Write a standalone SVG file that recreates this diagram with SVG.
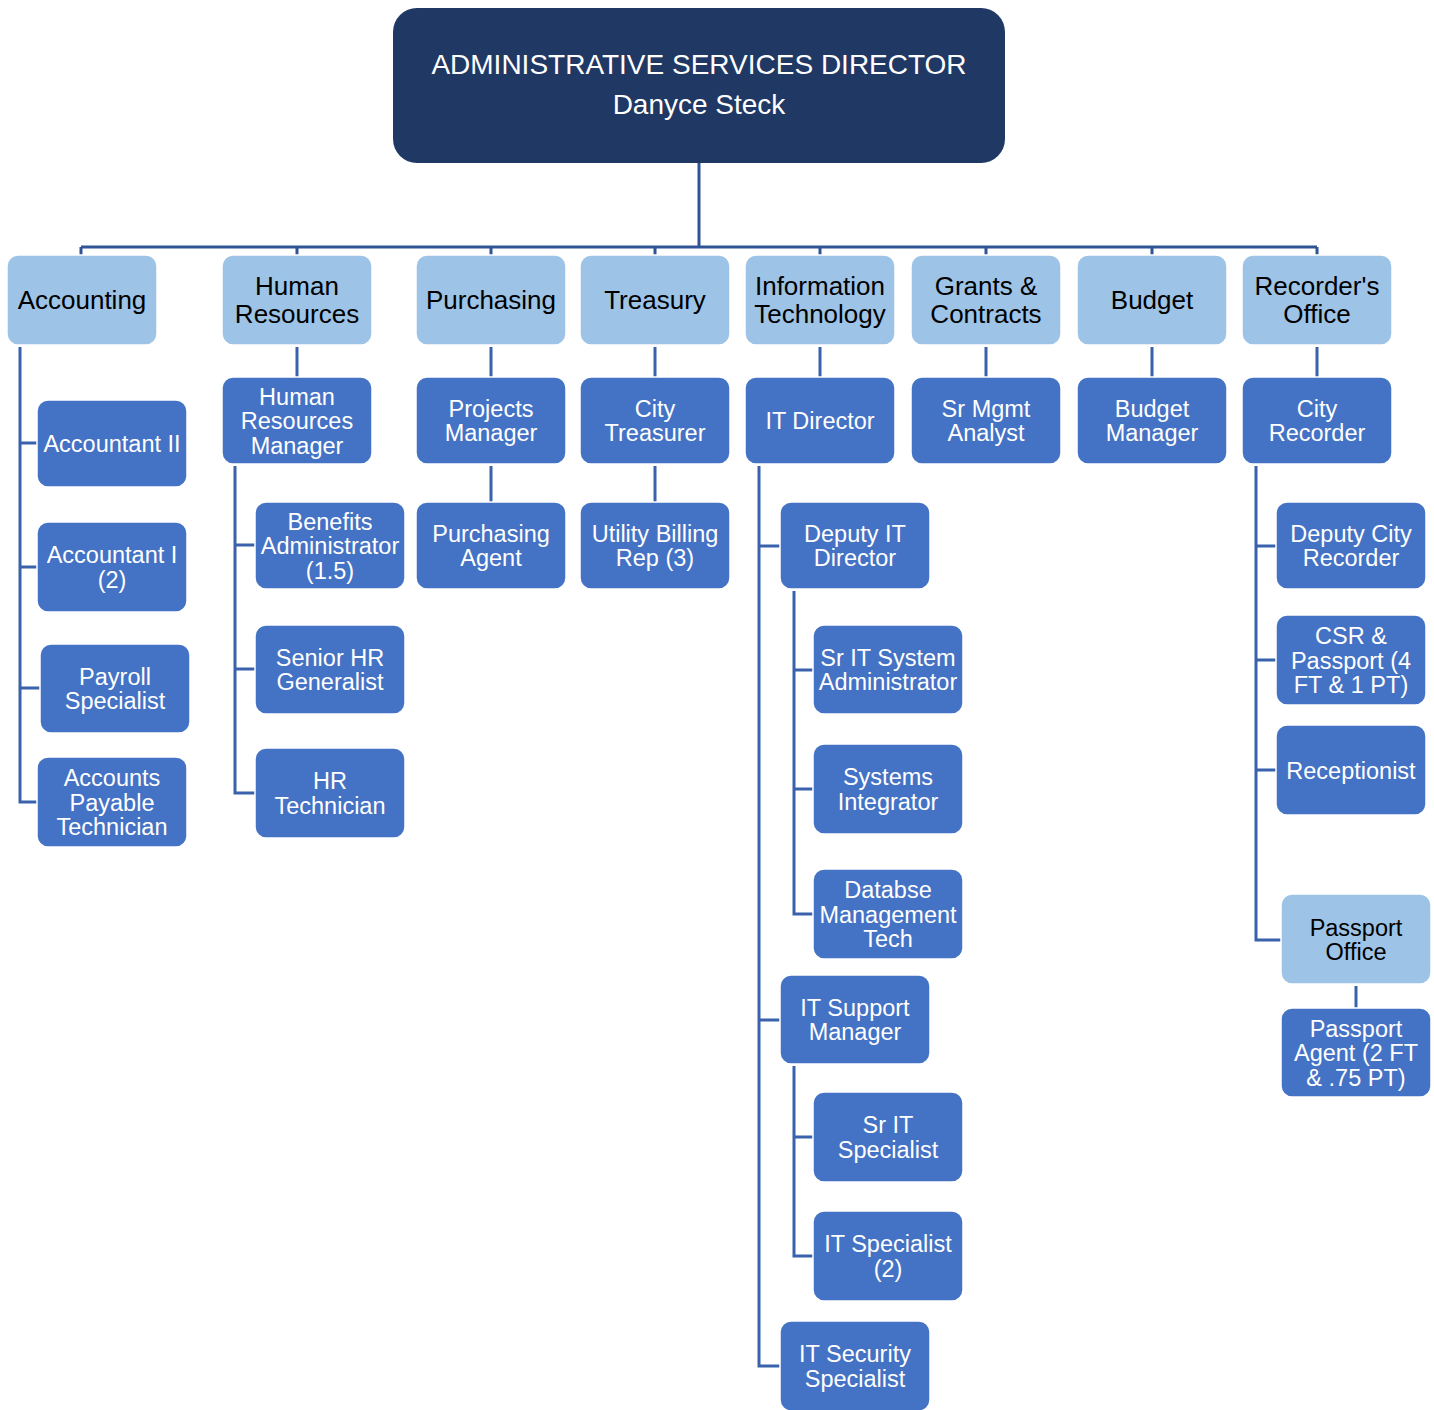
<svg xmlns="http://www.w3.org/2000/svg" width="1434" height="1410" viewBox="0 0 1434 1410">
  <style>
    .top { fill: #203864; }
    .dept { fill: #9DC3E6; stroke: #ffffff; stroke-width: 1.5; }
    .role { fill: #4472C4; stroke: #ffffff; stroke-width: 1.5; }
    .tt { font-family: "Liberation Sans", Arial, sans-serif; font-size: 28px; fill: #ffffff; text-anchor: middle; }
    .td { font-family: "Liberation Sans", Arial, sans-serif; font-size: 26px; fill: #000000; text-anchor: middle; }
    .tds { font-family: "Liberation Sans", Arial, sans-serif; font-size: 23.5px; fill: #000000; text-anchor: middle; }
    .tr { font-family: "Liberation Sans", Arial, sans-serif; font-size: 23.5px; fill: #ffffff; text-anchor: middle; }
    .conn path { fill: none; stroke: #3A62AC; stroke-width: 3; }
    .conn path.main { stroke: #2F5597; }
  </style>
  <rect width="1434" height="1410" fill="#ffffff"/>

  <!-- connectors -->
  <g class="conn" id="connectors">
    <path class="main" d="M699 163 V247 M81 247 H1317"/>
    <path class="main" d="M81 247 V255 M297 247 V255 M491 247 V255 M655 247 V255 M820 247 V255 M986 247 V255 M1152 247 V255 M1317 247 V255"/>
    <path d="M297 347 V377 M491 347 V377 M655 347 V377 M820 347 V377 M986 347 V377 M1152 347 V377 M1317 347 V377"/>
    <path d="M20 347 V802 H37 M20 443 H37 M20 567 H37 M20 688 H40"/>
    <path d="M235 466 V793 H255 M235 545 H255 M235 669 H255"/>
    <path d="M491 466 V502 M655 466 V502"/>
    <path d="M759 466 V1366 H780 M759 546 H780 M759 1020 H780"/>
    <path d="M794 591 V914 H813 M794 670 H813 M794 789 H813"/>
    <path d="M794 1066 V1256 H813 M794 1137 H813"/>
    <path d="M1256 466 V940 H1281 M1256 546 H1276 M1256 660 H1276 M1256 770 H1276"/>
    <path d="M1356 986 V1008"/>
  </g>

  <!-- director -->
  <g id="director">
    <rect class="top" x="393" y="8" width="612" height="155" rx="24"/>
    <text class="tt" x="699" y="74">ADMINISTRATIVE SERVICES DIRECTOR</text>
    <text class="tt" x="699" y="114">Danyce Steck</text>
  </g>

  <!-- departments -->
  <g id="accounting">
    <rect class="dept" x="7" y="255" width="150" height="90" rx="11"/>
    <text class="td" x="82" y="309">Accounting</text>
  </g>
  <g id="human-resources">
    <rect class="dept" x="222" y="255" width="150" height="90" rx="11"/>
    <text class="td" x="297" y="295">Human</text>
    <text class="td" x="297" y="323">Resources</text>
  </g>
  <g id="purchasing">
    <rect class="dept" x="416" y="255" width="150" height="90" rx="11"/>
    <text class="td" x="491" y="309">Purchasing</text>
  </g>
  <g id="treasury">
    <rect class="dept" x="580" y="255" width="150" height="90" rx="11"/>
    <text class="td" x="655" y="309">Treasury</text>
  </g>
  <g id="information-technology">
    <rect class="dept" x="745" y="255" width="150" height="90" rx="11"/>
    <text class="td" x="820" y="295">Information</text>
    <text class="td" x="820" y="323">Technology</text>
  </g>
  <g id="grants-contracts">
    <rect class="dept" x="911" y="255" width="150" height="90" rx="11"/>
    <text class="td" x="986" y="295">Grants &amp;</text>
    <text class="td" x="986" y="323">Contracts</text>
  </g>
  <g id="budget">
    <rect class="dept" x="1077" y="255" width="150" height="90" rx="11"/>
    <text class="td" x="1152" y="309">Budget</text>
  </g>
  <g id="recorders-office">
    <rect class="dept" x="1242" y="255" width="150" height="90" rx="11"/>
    <text class="td" x="1317" y="295">Recorder's</text>
    <text class="td" x="1317" y="323">Office</text>
  </g>

  <!-- department heads -->
  <g id="hr-manager">
    <rect class="role" x="222" y="377" width="150" height="87" rx="11"/>
    <text class="tr" x="297" y="404.5">Human</text>
    <text class="tr" x="297" y="429">Resources</text>
    <text class="tr" x="297" y="453.5">Manager</text>
  </g>
  <g id="projects-manager">
    <rect class="role" x="416" y="377" width="150" height="87" rx="11"/>
    <text class="tr" x="491" y="416.75">Projects</text>
    <text class="tr" x="491" y="441.25">Manager</text>
  </g>
  <g id="city-treasurer">
    <rect class="role" x="580" y="377" width="150" height="87" rx="11"/>
    <text class="tr" x="655" y="416.75">City</text>
    <text class="tr" x="655" y="441.25">Treasurer</text>
  </g>
  <g id="it-director">
    <rect class="role" x="745" y="377" width="150" height="87" rx="11"/>
    <text class="tr" x="820" y="429">IT Director</text>
  </g>
  <g id="sr-mgmt-analyst">
    <rect class="role" x="911" y="377" width="150" height="87" rx="11"/>
    <text class="tr" x="986" y="416.75">Sr Mgmt</text>
    <text class="tr" x="986" y="441.25">Analyst</text>
  </g>
  <g id="budget-manager">
    <rect class="role" x="1077" y="377" width="150" height="87" rx="11"/>
    <text class="tr" x="1152" y="416.75">Budget</text>
    <text class="tr" x="1152" y="441.25">Manager</text>
  </g>
  <g id="city-recorder">
    <rect class="role" x="1242" y="377" width="150" height="87" rx="11"/>
    <text class="tr" x="1317" y="416.75">City</text>
    <text class="tr" x="1317" y="441.25">Recorder</text>
  </g>

  <!-- accounting staff -->
  <g id="accountant-ii">
    <rect class="role" x="37" y="400" width="150" height="87" rx="11"/>
    <text class="tr" x="112" y="452">Accountant II</text>
  </g>
  <g id="accountant-i">
    <rect class="role" x="37" y="522" width="150" height="90" rx="11"/>
    <text class="tr" x="112" y="563.25">Accountant I</text>
    <text class="tr" x="112" y="587.75">(2)</text>
  </g>
  <g id="payroll-specialist">
    <rect class="role" x="40" y="644" width="150" height="89" rx="11"/>
    <text class="tr" x="115" y="684.75">Payroll</text>
    <text class="tr" x="115" y="709.25">Specialist</text>
  </g>
  <g id="ap-technician">
    <rect class="role" x="37" y="757" width="150" height="90" rx="11"/>
    <text class="tr" x="112" y="786">Accounts</text>
    <text class="tr" x="112" y="810.5">Payable</text>
    <text class="tr" x="112" y="835">Technician</text>
  </g>

  <!-- HR staff -->
  <g id="benefits-administrator">
    <rect class="role" x="255" y="502" width="150" height="87" rx="11"/>
    <text class="tr" x="330" y="529.5">Benefits</text>
    <text class="tr" x="330" y="554">Administrator</text>
    <text class="tr" x="330" y="578.5">(1.5)</text>
  </g>
  <g id="senior-hr-generalist">
    <rect class="role" x="255" y="625" width="150" height="89" rx="11"/>
    <text class="tr" x="330" y="665.75">Senior HR</text>
    <text class="tr" x="330" y="690.25">Generalist</text>
  </g>
  <g id="hr-technician">
    <rect class="role" x="255" y="748" width="150" height="90" rx="11"/>
    <text class="tr" x="330" y="789.25">HR</text>
    <text class="tr" x="330" y="813.75">Technician</text>
  </g>

  <!-- purchasing / treasury staff -->
  <g id="purchasing-agent">
    <rect class="role" x="416" y="502" width="150" height="87" rx="11"/>
    <text class="tr" x="491" y="541.75">Purchasing</text>
    <text class="tr" x="491" y="566.25">Agent</text>
  </g>
  <g id="utility-billing-rep">
    <rect class="role" x="580" y="502" width="150" height="87" rx="11"/>
    <text class="tr" x="655" y="541.75">Utility Billing</text>
    <text class="tr" x="655" y="566.25">Rep (3)</text>
  </g>

  <!-- IT staff -->
  <g id="deputy-it-director">
    <rect class="role" x="780" y="502" width="150" height="87" rx="11"/>
    <text class="tr" x="855" y="541.75">Deputy IT</text>
    <text class="tr" x="855" y="566.25">Director</text>
  </g>
  <g id="sr-it-system-admin">
    <rect class="role" x="813" y="625" width="150" height="89" rx="11"/>
    <text class="tr" x="888" y="665.75">Sr IT System</text>
    <text class="tr" x="888" y="690.25">Administrator</text>
  </g>
  <g id="systems-integrator">
    <rect class="role" x="813" y="744" width="150" height="90" rx="11"/>
    <text class="tr" x="888" y="785.25">Systems</text>
    <text class="tr" x="888" y="809.75">Integrator</text>
  </g>
  <g id="database-mgmt-tech">
    <rect class="role" x="813" y="869" width="150" height="90" rx="11"/>
    <text class="tr" x="888" y="898">Databse</text>
    <text class="tr" x="888" y="922.5">Management</text>
    <text class="tr" x="888" y="947">Tech</text>
  </g>
  <g id="it-support-manager">
    <rect class="role" x="780" y="975" width="150" height="89" rx="11"/>
    <text class="tr" x="855" y="1015.75">IT Support</text>
    <text class="tr" x="855" y="1040.25">Manager</text>
  </g>
  <g id="sr-it-specialist">
    <rect class="role" x="813" y="1092" width="150" height="90" rx="11"/>
    <text class="tr" x="888" y="1133.25">Sr IT</text>
    <text class="tr" x="888" y="1157.75">Specialist</text>
  </g>
  <g id="it-specialist">
    <rect class="role" x="813" y="1211" width="150" height="90" rx="11"/>
    <text class="tr" x="888" y="1252.25">IT Specialist</text>
    <text class="tr" x="888" y="1276.75">(2)</text>
  </g>
  <g id="it-security-specialist">
    <rect class="role" x="780" y="1321" width="150" height="90" rx="11"/>
    <text class="tr" x="855" y="1362.25">IT Security</text>
    <text class="tr" x="855" y="1386.75">Specialist</text>
  </g>

  <!-- recorder's office staff -->
  <g id="deputy-city-recorder">
    <rect class="role" x="1276" y="502" width="150" height="87" rx="11"/>
    <text class="tr" x="1351" y="541.75">Deputy City</text>
    <text class="tr" x="1351" y="566.25">Recorder</text>
  </g>
  <g id="csr-passport">
    <rect class="role" x="1276" y="615" width="150" height="90" rx="11"/>
    <text class="tr" x="1351" y="644">CSR &amp;</text>
    <text class="tr" x="1351" y="668.5">Passport (4</text>
    <text class="tr" x="1351" y="693">FT &amp; 1 PT)</text>
  </g>
  <g id="receptionist">
    <rect class="role" x="1276" y="725" width="150" height="90" rx="11"/>
    <text class="tr" x="1351" y="778.5">Receptionist</text>
  </g>
  <g id="passport-office">
    <rect class="dept" x="1281" y="894" width="150" height="90" rx="11"/>
    <text class="tds" x="1356" y="935.75">Passport</text>
    <text class="tds" x="1356" y="960.25">Office</text>
  </g>
  <g id="passport-agent">
    <rect class="role" x="1281" y="1008" width="150" height="89" rx="11"/>
    <text class="tr" x="1356" y="1036.5">Passport</text>
    <text class="tr" x="1356" y="1061">Agent (2 FT</text>
    <text class="tr" x="1356" y="1085.5">&amp; .75 PT)</text>
  </g>
</svg>
